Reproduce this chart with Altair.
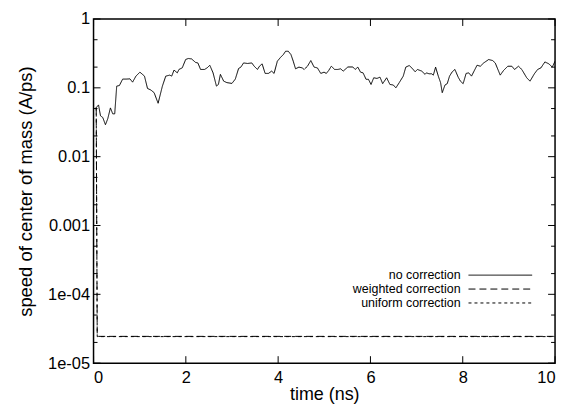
import altair as alt
import pandas as pd

# ---- data ----
time_nc = [0.058, 0.108, 0.151, 0.200, 0.258, 0.308, 0.366, 0.416, 0.459, 0.502,
           0.560, 0.631, 0.704, 0.790, 0.846, 0.919, 1.005, 1.104, 1.169, 1.242,
           1.313, 1.399, 1.492, 1.565, 1.651, 1.694, 1.744, 1.815, 1.851, 1.922,
           1.996, 2.052, 2.125, 2.211, 2.261, 2.319, 2.405, 2.461, 2.519, 2.590,
           2.663, 2.706, 2.749, 2.820, 2.891, 2.999, 3.072, 3.143, 3.193, 3.251,
           3.337, 3.430, 3.481, 3.552, 3.595, 3.653, 3.718, 3.789, 3.860, 3.912,
           3.983, 4.054, 4.112, 4.161, 4.220, 4.278, 4.327, 4.377, 4.450, 4.521,
           4.564, 4.635, 4.708, 4.779, 4.850, 4.924, 4.995, 5.044, 5.096, 5.152,
           5.225, 5.296, 5.354, 5.410, 5.511, 5.619, 5.669, 5.727, 5.785, 5.841,
           5.905, 5.957, 6.013, 6.071, 6.142, 6.207, 6.265, 6.351, 6.422, 6.495,
           6.551, 6.624, 6.711, 6.766, 6.840, 6.896, 6.969, 7.018, 7.111, 7.184,
           7.212, 7.270, 7.326, 7.363, 7.412, 7.470, 7.520, 7.556, 7.615, 7.664,
           7.714, 7.772, 7.830, 7.901, 7.950, 8.009, 8.073, 8.131, 8.190, 8.310,
           8.381, 8.454, 8.562, 8.648, 8.704, 8.812, 8.885, 8.977, 9.064, 9.122,
           9.208, 9.279, 9.386, 9.458, 9.552, 9.623, 9.694, 9.780, 9.867, 9.940,
           10.0]
speed_nc = [0.0516, 0.0565, 0.0392, 0.0371, 0.0291, 0.0355, 0.0511, 0.0419, 0.0419, 0.106,
            0.108, 0.134, 0.134, 0.135, 0.121, 0.148, 0.169, 0.148, 0.098, 0.093,
            0.085, 0.0597, 0.106, 0.148, 0.153, 0.148, 0.181, 0.165, 0.185, 0.195,
            0.258, 0.267, 0.263, 0.234, 0.230, 0.185, 0.185, 0.195, 0.213, 0.165,
            0.106, 0.112, 0.157, 0.125, 0.119, 0.116, 0.134, 0.191, 0.200, 0.230,
            0.226, 0.230, 0.206, 0.185, 0.206, 0.223, 0.162, 0.162, 0.175, 0.162,
            0.244, 0.278, 0.304, 0.340, 0.340, 0.304, 0.244, 0.189, 0.200, 0.195,
            0.185, 0.206, 0.249, 0.200, 0.195, 0.162, 0.169, 0.162, 0.179, 0.206,
            0.185, 0.185, 0.189, 0.175, 0.201, 0.201, 0.185, 0.200, 0.169, 0.165,
            0.133, 0.133, 0.112, 0.140, 0.137, 0.143, 0.115, 0.140, 0.112, 0.110,
            0.100, 0.119, 0.148, 0.200, 0.211, 0.195, 0.171, 0.185, 0.175, 0.157,
            0.165, 0.160, 0.160, 0.153, 0.200, 0.148, 0.119, 0.085, 0.110, 0.115,
            0.148, 0.171, 0.185, 0.143, 0.125, 0.115, 0.162, 0.165, 0.148, 0.213,
            0.206, 0.230, 0.258, 0.249, 0.230, 0.153, 0.179, 0.206, 0.206, 0.185,
            0.206, 0.185, 0.140, 0.125, 0.160, 0.185, 0.195, 0.238, 0.223, 0.200,
            0.244]
time_corr = [0.058, 0.08, 10.0]
speed_weighted = [0.0516, 2.45e-5, 2.45e-5]
speed_uniform = [0.0516, 2.43e-5, 2.43e-5]

series_names = ["no correction", "weighted correction", "uniform correction"]
x_ticks = [0, 2, 4, 6, 8, 10]
y_major = [1e-5, 1e-4, 1e-3, 1e-2, 1e-1, 1.0]
y_minor = [2e-5, 5e-5, 2e-4, 5e-4, 2e-3, 5e-3, 2e-2, 5e-2, 0.2, 0.5]
y_tick_labels = ["1e-05", "1e-04", "0.001", "0.01", "0.1", "1"]

W, H = 464, 346
FONT = "Liberation Sans"
dashes = [[1, 0], [7, 4], [3, 3]]

rows = []
for t, v in zip(time_nc, speed_nc):
    rows.append({"t": t, "v": v, "series": series_names[0]})
for t, v in zip(time_corr, speed_weighted):
    rows.append({"t": t, "v": v, "series": series_names[1]})
for t, v in zip(time_corr, speed_uniform):
    rows.append({"t": t, "v": v, "series": series_names[2]})
df = pd.DataFrame(rows)

xscale = alt.Scale(domain=[0, 10], nice=False)
yscale = alt.Scale(type="log", domain=[1e-5, 1], nice=False)

label_expr = "[" + ",".join("'%s'" % s for s in y_tick_labels) + "][round(log(datum.value)/LN10)+5]"

X_TITLE = "time (ns)"
Y_TITLE = "speed of center of mass (A/ps)"
x_axis = alt.Axis(values=x_ticks, labelPadding=6, titleBaseline="alphabetic", titleY=37,
                  titleFontSize=18)
y_axis = alt.Axis(values=y_major, labelExpr=label_expr, labelPadding=4, titlePadding=12)

def X():
    return alt.X("t:Q", scale=xscale, title=X_TITLE, axis=x_axis)

def Y():
    return alt.Y("v:Q", scale=yscale, title=Y_TITLE, axis=y_axis)

lines = alt.Chart(df).mark_line(clip=True, strokeWidth=1, color="black").encode(
    x=X(), y=Y(),
    strokeDash=alt.StrokeDash("series:N", scale=alt.Scale(domain=series_names, range=dashes), legend=None),
    detail="series:N",
)

ymaj = pd.DataFrame({"v": y_major})
ymin = pd.DataFrame({"v": y_minor})
xt = pd.DataFrame({"t": x_ticks})

def yticks(data, length):
    left = alt.Chart(data).mark_rule(color="black", strokeWidth=1).encode(
        y=Y(), x=alt.value(0), x2=alt.value(length))
    right = alt.Chart(data).mark_rule(color="black", strokeWidth=1).encode(
        y=Y(), x=alt.value(W - length), x2=alt.value(W))
    return [left, right]

xt_bottom = alt.Chart(xt).mark_rule(color="black", strokeWidth=1).encode(
    x=X(), y=alt.value(H - 7), y2=alt.value(H))
xt_top = alt.Chart(xt).mark_rule(color="black", strokeWidth=1).encode(
    x=X(), y=alt.value(0), y2=alt.value(7))

# legend (gnuplot style: label left, sample right)
leg_layers = []
lx_text, lx0, lx1 = 369, 377, 441
ly0, dy = 257.5, 14
for i, name in enumerate(series_names):
    d = pd.DataFrame({"label": [name]})
    leg_layers.append(alt.Chart(d).mark_text(align="right", baseline="middle", font=FONT,
                                             fontSize=12.5, color="black").encode(
        x=alt.value(lx_text), y=alt.value(ly0 + i * dy), text="label:N"))
    leg_layers.append(alt.Chart(d).mark_rule(color="black", strokeWidth=1, strokeDash=dashes[i]).encode(
        x=alt.value(lx0), x2=alt.value(lx1), y=alt.value(ly0 + i * dy)))

chart = alt.layer(
    lines, *yticks(ymaj, 7), *yticks(ymin, 4), xt_bottom, xt_top, *leg_layers
).properties(
    width=W, height=H,
    autosize=alt.AutoSizeParams(type="none"),
    padding={"left": 86, "top": 10, "right": 8, "bottom": 41},
).configure_view(
    stroke="black", strokeWidth=1.5
).configure_axis(
    ticks=False, domain=False, grid=False,
    labelFont=FONT, labelFontSize=16.5, labelColor="black",
    titleFont=FONT, titleFontSize=18.5, titleFontWeight="normal", titleColor="black",
)

chart.save("out.html", embed_options={"renderer": "svg", "actions": False})
